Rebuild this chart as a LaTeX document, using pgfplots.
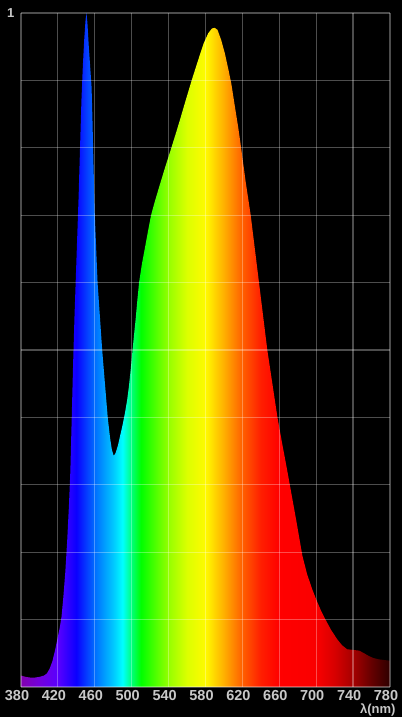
\documentclass[border=0pt]{standalone}
\usepackage{fontspec}
\setmainfont{Liberation Sans}
\usepackage{pgfplots}
\usepackage{pgfplotstable}
\pgfplotsset{compat=1.18}

\definecolor{labelgray}{RGB}{200,200,200}
\definecolor{c380}{RGB}{130,0,175}
\definecolor{c400}{RGB}{115,0,220}
\definecolor{c420}{RGB}{90,0,255}
\definecolor{c440}{RGB}{10,0,255}
\definecolor{c460}{RGB}{0,110,255}
\definecolor{c480}{RGB}{0,200,255}
\definecolor{c490}{RGB}{0,255,255}
\definecolor{c500}{RGB}{0,255,120}
\definecolor{c510}{RGB}{0,255,0}
\definecolor{c540}{RGB}{150,255,0}
\definecolor{c560}{RGB}{220,255,0}
\definecolor{c580}{RGB}{255,250,0}
\definecolor{c600}{RGB}{255,175,0}
\definecolor{c620}{RGB}{255,95,0}
\definecolor{c640}{RGB}{255,30,0}
\definecolor{c660}{RGB}{255,0,0}
\definecolor{c700}{RGB}{250,0,0}
\definecolor{c720}{RGB}{215,0,0}
\definecolor{c740}{RGB}{165,0,0}
\definecolor{c760}{RGB}{100,0,0}
\definecolor{c780}{RGB}{45,0,0}

\pgfdeclarehorizontalshading{spectrum}{100bp}{%
color(0bp)=(c380); color(25bp)=(c380); color(27.5bp)=(c400);
color(30bp)=(c420); color(32.5bp)=(c440); color(35bp)=(c460);
color(37.5bp)=(c480); color(38.75bp)=(c490); color(40bp)=(c500);
color(41.25bp)=(c510); color(45bp)=(c540); color(47.5bp)=(c560);
color(50bp)=(c580); color(52.5bp)=(c600); color(55bp)=(c620);
color(57.5bp)=(c640); color(60bp)=(c660); color(65bp)=(c700);
color(67.5bp)=(c720); color(70bp)=(c740); color(72.5bp)=(c760);
color(75bp)=(c780); color(100bp)=(c780)}

\pgfplotstableread{
x y
380 0.017
385 0.015
390 0.014
395 0.014
400 0.015
405 0.017
408 0.020
411 0.027
414 0.038
417 0.055
420 0.075
422 0.088
424 0.105
426 0.135
428 0.17
430 0.215
432 0.27
433.5 0.32
435 0.40
436.5 0.48
438 0.55
439.5 0.61
441 0.67
442.5 0.73
444 0.80
445.5 0.87
447 0.92
448.5 0.96
450 0.99
451 1.0
452 0.985
453.5 0.95
455 0.92
456.5 0.89
457.5 0.84
458.5 0.78
460 0.70
461.5 0.65
463 0.60
465.5 0.55
468 0.50
471 0.45
474 0.40
476.5 0.37
478.5 0.352
480.5 0.343
482.5 0.347
485 0.358
487 0.37
490 0.388
492.5 0.405
495 0.425
497 0.446
499 0.472
500.7 0.497
502.5 0.522
504.3 0.546
506 0.572
508 0.60
511 0.627
514 0.649
517.5 0.675
521 0.70
525 0.72
530 0.743
536 0.77
543 0.80
548 0.822
552 0.84
558 0.868
565 0.90
572 0.93
578 0.955
583 0.97
587 0.977
590 0.978
593 0.975
597 0.96
601 0.94
605 0.915
608 0.895
612 0.86
615.5 0.83
618.6 0.80
623.5 0.75
629 0.70
633.5 0.65
638 0.60
642.5 0.55
647 0.50
652.5 0.45
658 0.40
663 0.362
667 0.333
671 0.303
678 0.25
685 0.195
690 0.168
695.7 0.145
700 0.13
705 0.114
710.5 0.099
716 0.085
722.7 0.071
728 0.062
733.5 0.056
740 0.055
746.5 0.054
752 0.050
757 0.046
762 0.043
768 0.041
774 0.040
780 0.039
}\spec

\begin{document}
\begin{tikzpicture}
\fill[black] (-21pt,-30pt) rectangle (381pt,687pt);
\begin{axis}[
  at={(0pt,0pt)}, anchor=south west,
  scale only axis, width=369pt, height=674pt,
  xmin=380, xmax=780, ymin=0, ymax=1,
  axis on top,
  axis line style={draw=none},
  major tick length=0pt,
  xtick={380,420,460,500,540,580,620,660,700,740,780},
  ytick={0,0.1,0.2,0.3,0.4,0.5,0.6,0.7,0.8,0.9,1},
  yticklabels={,,,,,,,,,,1},
  grid=major,
  grid style={white, opacity=0.3, line width=1.2pt},
  /pgf/number format/assume math mode=true,
  /pgf/number format/1000 sep={},
  xticklabel style={font=\fontsize{14.5}{14.5}\selectfont\bfseries, text=labelgray, xshift=-4pt, yshift=0.5pt},
  yticklabel style={font=\fontsize{13}{13}\selectfont\bfseries, text=labelgray, xshift=-3pt, yshift=0pt},
]
\addplot[draw=none, shade, shading=spectrum] table[x=x,y=y]{\spec} \closedcycle;
\end{axis}
\node[anchor=base east, font=\fontsize{13}{13}\selectfont\bfseries, text=labelgray] at (378pt,-27pt) {λ(nm)};
\pgfresetboundingbox
\useasboundingbox (-21pt,-30pt) rectangle (381pt,687pt);
\end{tikzpicture}
\end{document}
